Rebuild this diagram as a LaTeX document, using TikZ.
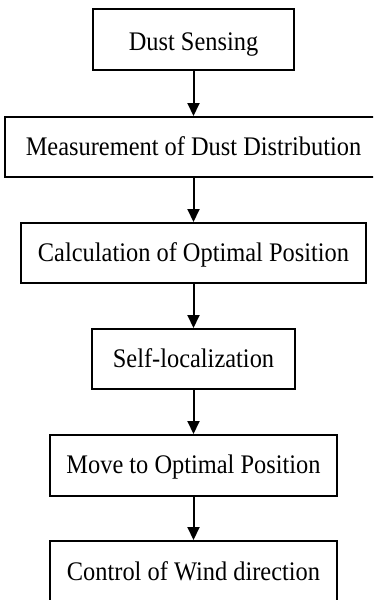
\documentclass[tikz,border=0pt]{standalone}
\usepackage{fontspec}
\setmainfont{Liberation Serif}
\usetikzlibrary{arrows.meta}
\newcommand{\lowtxt}[2]{\raisebox{-#1pt}[0pt][0pt]{\scalebox{1}[1.1]{#2}}}
\begin{document}
\begin{tikzpicture}[x=1pt,y=1pt,
  box/.style={draw=black,line width=2pt,inner sep=0pt,font=\fontsize{24.4}{26}\selectfont},
  arr/.style={line width=2pt,-{Triangle[length=13pt,width=12pt]}}]
\useasboundingbox (0,0) rectangle (373,-600);
\clip (0,0) rectangle (373,-600);
\node[box,minimum width=201pt,minimum height=61pt] (b1) at (193.5,-39.5) {\lowtxt{10.5}{Dust Sensing}};
\node[box,minimum width=377pt,minimum height=60pt] (b2) at (193.5,-147) {\lowtxt{8}{Measurement of Dust Distribution}};
\node[box,minimum width=345pt,minimum height=60pt] (b3) at (193.5,-253) {\lowtxt{8.5}{Calculation of Optimal Position}};
\node[box,minimum width=203pt,minimum height=60pt] (b4) at (193.5,-359) {\lowtxt{8}{Self-localization}};
\node[box,minimum width=287pt,minimum height=61pt] (b5) at (193.5,-465.5) {\lowtxt{8}{Move to Optimal Position}};
\node[box,minimum width=287pt,minimum height=60pt] (b6) at (193.5,-571) {\lowtxt{9}{Control of Wind direction}};
\draw[arr] (b1) -- (b2);
\draw[arr] (b2) -- (b3);
\draw[arr] (b3) -- (b4);
\draw[arr] (b4) -- (b5);
\draw[arr] (b5) -- (b6);
\end{tikzpicture}
\end{document}
